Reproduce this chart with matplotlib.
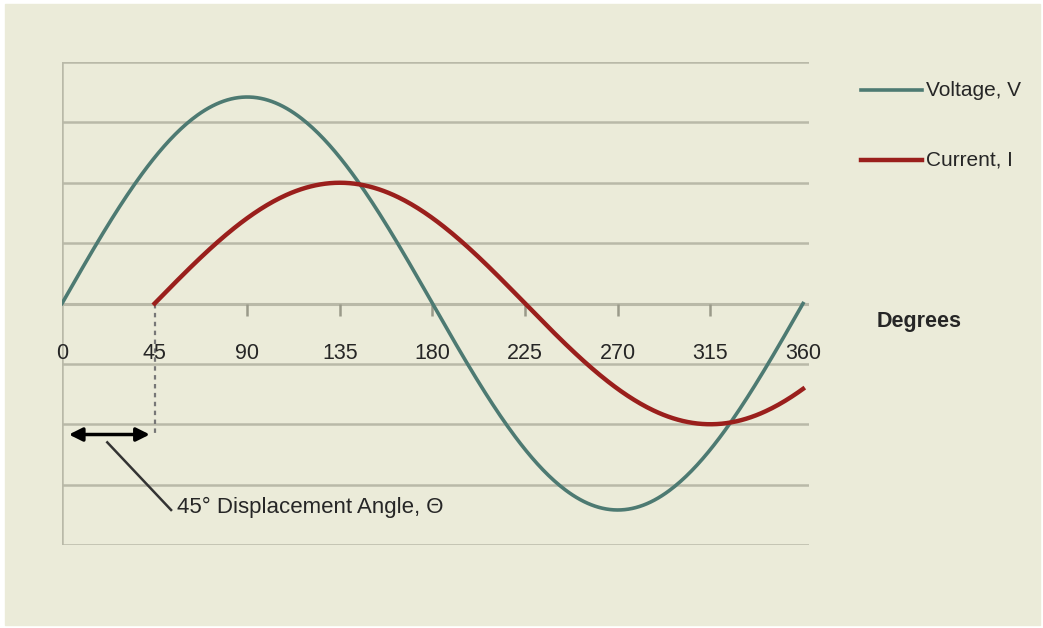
import numpy as np
import matplotlib.pyplot as plt
from matplotlib.patches import Rectangle

# data
degree_ticks = [0, 45, 90, 135, 180, 225, 270, 315, 360]
voltage_peak = 3.42
current_peak = 2.0
phase_shift = 45

theta_v = np.linspace(0, 360, 400)
voltage = voltage_peak * np.sin(np.radians(theta_v))
theta_i = np.linspace(phase_shift, 360, 400)
current = current_peak * np.sin(np.radians(theta_i - phase_shift))

bg = '#ebebd9'
grid_c = '#b9b9a8'
volt_c = '#4d7a72'
curr_c = '#9a1f1c'
txt_c = '#262626'
font = ['Liberation Sans', 'DejaVu Sans']

W, H = 1043, 628
fig = plt.figure(figsize=(W / 100, H / 100), dpi=100, facecolor='white')
fig.patches.append(Rectangle((5 / W, 3 / H), 1035 / W, 621 / H,
                             transform=fig.transFigure, color=bg, zorder=-10))

px_per_deg = 741 / 360
x_max = 363
ax = fig.add_axes([62 / W, (H - 545) / H, x_max * px_per_deg / W, 483 / H])
ax.set_xlim(0, x_max)
ax.set_ylim(-4, 4)
ax.axis('off')

# grid lines
for yv in range(-4, 5):
    ax.axhline(yv, color=grid_c, lw=2.2 if yv == 0 else 1.8, zorder=1)
ax.axvline(0, color=grid_c, lw=1.8, zorder=1)

# ticks and labels
ax.vlines(degree_ticks[2:-1], -0.2, 0, color='#9a9a8a', lw=1.8, zorder=1)
for d in degree_ticks:
    ax.text(d, -0.83, str(d), ha='center', va='center', fontsize=15.5,
            color=txt_c, family=font)

# curves
ax.plot(theta_v, voltage, color=volt_c, lw=2.6, zorder=3)
ax.plot(theta_i, current, color=curr_c, lw=3.2, zorder=3)

# displacement annotation
ax.plot([phase_shift, phase_shift], [0, -2.2], color='#777777', lw=1.6,
        ls=(0, (2, 2)), zorder=2)
ax.annotate('', xy=(2, -2.17), xytext=(phase_shift - 1, -2.17),
            arrowprops=dict(arrowstyle='<|-|>', color='black', lw=2.5,
                            mutation_scale=20), zorder=4)
ax.plot([22, 53], [-2.3, -3.42], color='#333333', lw=1.8, zorder=4)
ax.text(56, -3.38, '45° Displacement Angle, Θ', ha='left', va='center',
        fontsize=16, color=txt_c, family=font)

ax.text(396, -0.3, 'Degrees', ha='left', va='center', fontsize=15.5,
        fontweight='bold', color=txt_c, family=font, clip_on=False)

# legend drawn by hand
ax.plot([388, 418], [3.53, 3.53], color=volt_c, lw=2.6, clip_on=False)
ax.text(420, 3.53, 'Voltage, V', ha='left', va='center', fontsize=15,
        color=txt_c, family=font, clip_on=False)
ax.plot([388, 418], [2.38, 2.38], color=curr_c, lw=3.2, clip_on=False)
ax.text(420, 2.38, 'Current, I', ha='left', va='center', fontsize=15,
        color=txt_c, family=font, clip_on=False)

fig.savefig('out.png', dpi=100, facecolor='white')
